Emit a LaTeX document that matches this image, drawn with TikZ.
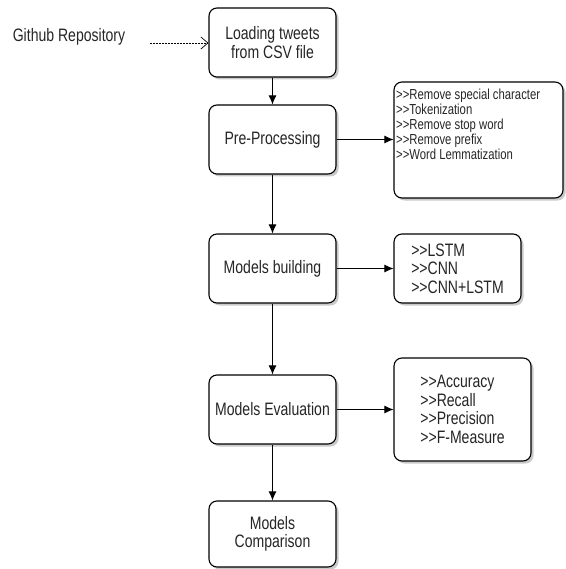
\documentclass[tikz,border=0pt]{standalone}
\usepackage{fontspec}
\setmainfont{Liberation Sans}[FakeStretch=0.78]
\usetikzlibrary{arrows.meta,shadows}
\begin{document}
\begin{tikzpicture}[x=1pt,y=-1pt,
  box/.style={draw=black, line width=1.1pt, rounded corners=8pt, fill=white,
    drop shadow={shadow xshift=2.5pt, shadow yshift=-2.5pt, opacity=0.35, fill=black!60},
    inner sep=0pt, align=center, text=black!85,
    font=\fontsize{18pt}{18.5pt}\selectfont},
  mainbox/.style={box, minimum width=127pt, minimum height=69pt},
  flow/.style={line width=0.9pt, -{Latex[length=9pt,width=8pt]}},
  txt/.style={inner sep=0pt, text=black!85},
]
\useasboundingbox (0,0) rectangle (565,569);

% main column
\node[mainbox] (load) at (272.5,42.5) {Loading tweets\\from CSV file};
\node[mainbox] (pre)  at (272.5,139.5) {Pre-Processing};
\node[mainbox] (build) at (272.5,268.5) {Models building};
\node[mainbox] (eval) at (272.5,409.5) {Models Evaluation};
\node[mainbox, minimum height=66pt] (comp) at (272.5,534) {Models\\Comparison};

% side boxes
\node[box, minimum width=169pt, minimum height=116pt] (prelist) at (478.5,140) {};
\node[txt, anchor=north west, align=left,
  font=\fontsize{14.5pt}{15pt}\selectfont] (pretext) at (396,89)
  {>{}>Remove special character\\>{}>Tokenization\\>{}>Remove stop word\\>{}>Remove prefix\\>{}>Word Lemmatization};
\node[box, minimum width=127pt, minimum height=69pt, align=left] (models) at (457.5,268.5)
  {>{}>LSTM\\>{}>CNN\\>{}>CNN+LSTM};
\node[box, minimum width=137pt, minimum height=103pt, align=left] (metrics) at (462.5,409.5)
  {>{}>Accuracy\\>{}>Recall\\>{}>Precision\\>{}>F-Measure};

% source
\node[txt, font=\fontsize{18pt}{18.5pt}\selectfont] (github) at (69,37) {Github Repository};
\coordinate (gstart) at (150,43);
\draw[line width=0.7pt, dash pattern=on 2pt off 1pt, -{Straight Barb[length=7pt,width=12pt]}]
  (gstart) -- (gstart -| load.west);

% connectors
\draw[flow] (load) -- (pre);
\draw[flow] (pre) -- (build);
\draw[flow] (build) -- (eval);
\draw[flow] (eval) -- (comp);
\draw[flow] (pre.east) -- (pre.east -| prelist.west);
\draw[flow] (build) -- (models);
\draw[flow] (eval) -- (metrics);
\end{tikzpicture}
\end{document}
